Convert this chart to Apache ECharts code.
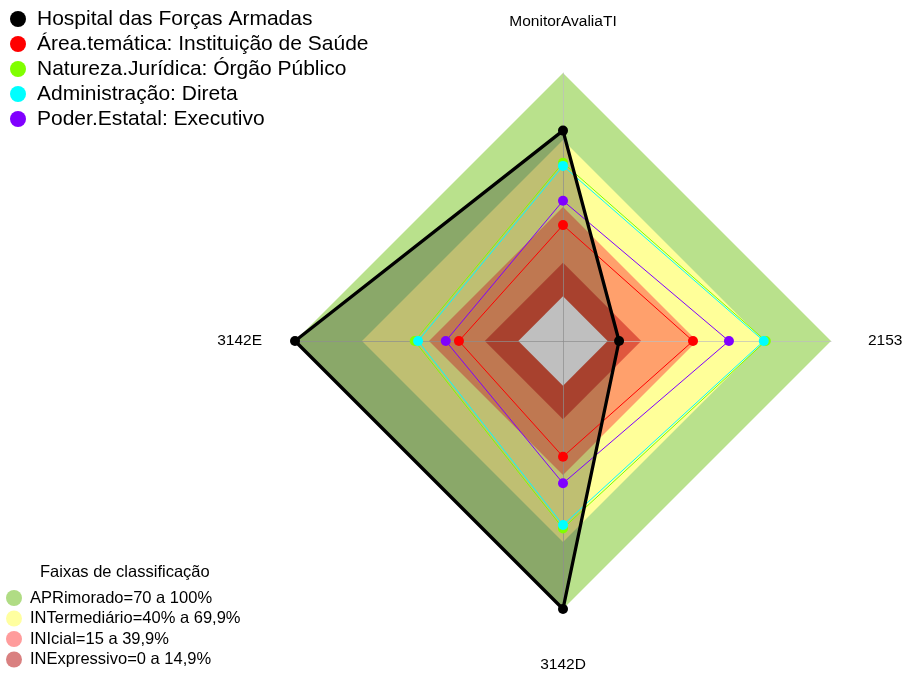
<!DOCTYPE html>
<html>
<head>
<meta charset="utf-8">
<script src="https://cdn.jsdelivr.net/npm/echarts@6/dist/echarts.min.js"></script>
<style>
  html, body { margin: 0; padding: 0; background: #ffffff; }
  #chart { width: 905px; height: 673px; }
</style>
</head>
<body>
<div id="chart"></div>
<script>
// Radar axes, listed counter-clockwise starting at the top
const indicators = ['MonitorAvaliaTI', '3142E', '3142D', '2153'];
const scaleMin = -20;
const scaleMax = 100;

// Profiles compared on the radar (same order as the indicators)
const seriesNames = [
  'Hospital das Forças Armadas',
  'Área.temática: Instituição de Saúde',
  'Natureza.Jurídica: Órgão Público',
  'Administração: Direta',
  'Poder.Estatal: Executivo'
];
const hospital = [74.2, 100, 100, 5.1];
const areaTematica = [31.9, 26.6, 31.8, 38.2];
const naturezaJuridica = [59.8, 46.4, 63.9, 70.8];
const administracao = [58.4, 44.9, 62.4, 69.9];
const poderEstatal = [42.8, 32.5, 43.7, 54.3];
const seriesColors = ['#000000', '#ff0000', '#80ff00', '#00ffff', '#8000ff'];

// Classification bands (upper limit of each band, in %)
const bandNames = [
  'APRimorado=70 a 100%',
  'INTermediário=40% a 69,9%',
  'INIcial=15 a 39,9%',
  'INExpressivo=0 a 14,9%'
];
const bandUpper = [100, 70, 40, 15];
const bandFloor = 0;
const bandFill = ['#b9e18c', '#ffff99', '#ffa06c', '#e0573e'];
const bandSwatch = ['#b0dc84', '#ffffa0', '#ff9c9c', '#d98080'];

const fontFamily = '"Liberation Sans", Arial, sans-serif';
const nameStyleKey = { 'MonitorAvaliaTI': 't', '3142D': 'b', '2153': 'r' };

const perAxis = (v) => indicators.map(() => v);

const series = [];

// filled bands, largest first so the smaller ones sit on top
bandNames.forEach((name, i) => {
  series.push({
    type: 'radar', name: name, z: 0, silent: true,
    symbol: 'none',
    lineStyle: { opacity: 0 },
    itemStyle: { color: bandSwatch[i] },
    areaStyle: { color: bandFill[i], opacity: 1 },
    data: [{ name: name, value: perAxis(bandUpper[i]) }]
  });
});
// below 0% there is no band
series.push({
  type: 'radar', name: 'floor', z: 0, silent: true,
  symbol: 'none',
  lineStyle: { opacity: 0 },
  itemStyle: { color: '#ffffff' },
  areaStyle: { color: '#ffffff', opacity: 1 },
  data: [{ name: 'floor', value: perAxis(bandFloor) }]
});

// shaded area of the hospital profile (its outline is drawn last)
series.push({
  type: 'radar', name: seriesNames[0], z: 2, silent: true,
  symbol: 'none',
  lineStyle: { opacity: 0 },
  itemStyle: { color: seriesColors[0] },
  areaStyle: { color: 'rgba(0,0,0,0.25)', opacity: 1 },
  data: [{ name: seriesNames[0], value: hospital }]
});

const profiles = [areaTematica, naturezaJuridica, administracao, poderEstatal];
profiles.forEach((vals, k) => {
  const i = k + 1;
  series.push({
    type: 'radar', name: seriesNames[i], z: 2, silent: true,
    symbol: 'circle', symbolSize: 10,
    lineStyle: { color: seriesColors[i], width: 1 },
    itemStyle: { color: seriesColors[i] },
    data: [{ name: seriesNames[i], value: vals }]
  });
});

series.push({
  type: 'radar', name: seriesNames[0], z: 2, silent: true,
  symbol: 'circle', symbolSize: 10,
  lineStyle: { color: seriesColors[0], width: 3.3 },
  itemStyle: { color: seriesColors[0] },
  data: [{ name: seriesNames[0], value: hospital }]
});

const nameText = { fontFamily: fontFamily, fontSize: 15.5, color: '#000000' };

const option = {
  animation: false,
  backgroundColor: '#ffffff',
  title: {
    text: 'Faixas de classificação',
    left: 40, top: 564, padding: 0,
    textStyle: { fontFamily: fontFamily, fontSize: 16.5, fontWeight: 'normal', color: '#000000' }
  },
  legend: [
    {
      data: seriesNames,
      orient: 'vertical',
      left: 10, top: 8.5, padding: 0,
      icon: 'circle',
      itemWidth: 28, itemHeight: 16, itemGap: 4,
      selectedMode: false,
      itemStyle: { borderWidth: 0 },
      textStyle: { fontFamily: fontFamily, fontSize: 21, color: '#000000' }
    },
    {
      data: bandNames,
      orient: 'vertical',
      left: 6, top: 589.5, padding: 0,
      icon: 'circle',
      itemWidth: 22, itemHeight: 16, itemGap: 3.5,
      selectedMode: false,
      itemStyle: { borderWidth: 0 },
      textStyle: { fontFamily: fontFamily, fontSize: 16.5, color: '#000000' }
    }
  ],
  radar: {
    z: 1,
    center: [563, 341],
    radius: 268,
    startAngle: 90,
    shape: 'polygon',
    splitNumber: 1,
    indicator: indicators.map((n) => ({ name: n, min: scaleMin, max: scaleMax })),
    nameGap: 33,
    axisName: {
      color: '#000000',
      fontFamily: fontFamily,
      fontSize: 15.5,
      formatter: (name) => nameStyleKey[name] ? '{' + nameStyleKey[name] + '|' + name + '}' : name,
      rich: {
        t: Object.assign({ lineHeight: 37 }, nameText),
        b: Object.assign({ lineHeight: 46 }, nameText),
        r: Object.assign({ padding: [0, 0, 0, 4] }, nameText)
      }
    },
    axisLine: { show: true, lineStyle: { color: 'rgba(190,190,190,0.7)', width: 1 } },
    splitLine: { show: false },
    splitArea: { show: false },
    axisTick: { show: false },
    axisLabel: { show: false }
  },
  series: series
};

const chart = echarts.init(document.getElementById('chart'), null, { renderer: 'canvas' });
chart.setOption(option);
</script>
</body>
</html>
